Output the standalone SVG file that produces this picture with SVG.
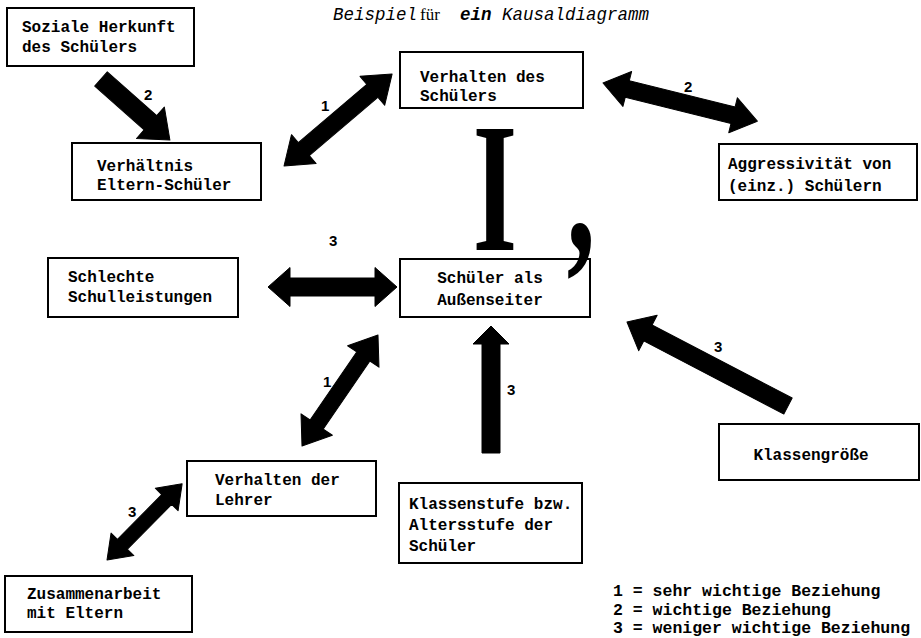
<svg xmlns="http://www.w3.org/2000/svg" width="921" height="638" viewBox="0 0 921 638">
<style>
.box{fill:#fff;stroke:#000;stroke-width:2}
.t{font-family:"Liberation Mono","DejaVu Sans Mono",monospace;font-size:16px;font-weight:bold;fill:#000}
.lg{font-family:"Liberation Mono","DejaVu Sans Mono",monospace;font-size:16.5px;font-weight:bold;fill:#000}
.lbl{font-family:"Liberation Sans",Arial,sans-serif;font-size:15px;font-weight:bold;fill:#000}
.arr{fill:#000;stroke:#000;stroke-width:1;stroke-linejoin:round}
.ttl{font-family:"Liberation Mono",monospace;font-size:17.5px;font-style:italic;fill:#000}
</style>
<rect width="921" height="638" fill="#fff"/>
<text y="20" class="ttl"><tspan x="333">Beispiel</tspan><tspan x="420" font-family="Liberation Serif,serif" font-style="normal" font-size="17">für</tspan><tspan x="460" font-weight="bold">ein</tspan><tspan x="502">Kausaldiagramm</tspan></text>
<g id="connectors">
<polygon class="arr" transform="translate(101,79) rotate(41.5)" points="0,-9.5 66,-9.5 66,-21 92,0 66,21 66,9.5 0,9.5"/>
<polygon class="arr" transform="translate(284,166) rotate(-40.4)" points="0,0 26,-19 26,-8.5 116,-8.5 116,-19 142,0 116,19 116,8.5 26,8.5 26,19"/>
<polygon class="arr" transform="translate(603,83) rotate(13.9)" points="0,0 25,-18 25,-8.5 134,-8.5 134,-18 159,0 134,18 134,8.5 25,8.5 25,18"/>
<polygon class="arr" transform="translate(268,287)" points="0,0 22,-19.5 22,-9 107,-9 107,-19.5 129,0 107,19.5 107,9 22,9 22,19.5"/>
<polygon class="arr" transform="translate(302,446) rotate(-55.6)" points="0,0 26,-19 26,-8 108.5,-8 108.5,-19 134.5,0 108.5,19 108.5,8 26,8 26,19"/>
<polygon class="arr" transform="translate(107,560) rotate(-45.4)" points="0,0 22,-16 22,-7 85,-7 85,-16 107,0 85,16 85,7 22,7 22,16"/>
<polygon class="arr" transform="translate(491,453) rotate(-90)" points="0,-9 109,-9 109,-18 127,0 109,18 109,9 0,9"/>
<polygon class="arr" transform="translate(788,406) rotate(-152.45)" points="0,-9 158,-9 158,-20 181.6,0 158,20 158,9 0,9"/>
<text class="lbl" x="144" y="100">2</text>
<text class="lbl" x="321" y="111">1</text>
<text class="lbl" x="684" y="92">2</text>
<text class="lbl" x="329" y="246">3</text>
<text class="lbl" x="323" y="387">1</text>
<text class="lbl" x="128" y="517">3</text>
<text class="lbl" x="507" y="395">3</text>
<text class="lbl" x="714" y="352">3</text>
</g>
<g id="n-soziale">
<rect class="box" x="7" y="8" width="187" height="58"/>
<text class="t" x="22" y="32">Soziale Herkunft</text>
<text class="t" x="22" y="52">des Schülers</text>
</g>
<g id="n-verhaeltnis">
<rect class="box" x="72" y="143" width="189" height="57"/>
<text class="t" x="97" y="171">Verhältnis</text>
<text class="t" x="97" y="190">Eltern-Schüler</text>
</g>
<g id="n-verhalten-schueler">
<rect class="box" x="400" y="52" width="183" height="56"/>
<text class="t" x="420" y="82">Verhalten des</text>
<text class="t" x="420" y="101">Schülers</text>
</g>
<g id="n-aggressivitaet">
<rect class="box" x="719" y="144" width="198" height="56"/>
<text class="t" x="728" y="169">Aggressivität von</text>
<text class="t" x="728" y="191">(einz.) Schülern</text>
</g>
<g id="n-schulleistungen">
<rect class="box" x="48" y="258" width="190" height="59"/>
<text class="t" x="68" y="282">Schlechte</text>
<text class="t" x="68" y="302">Schulleistungen</text>
</g>
<g id="n-aussenseiter">
<rect class="box" x="400" y="259" width="190" height="58"/>
<text class="t" x="490" y="283" text-anchor="middle">Schüler als</text>
<text class="t" x="490" y="305" text-anchor="middle">Außenseiter</text>
</g>
<g id="n-lehrer">
<rect class="box" x="187" y="461" width="189" height="55"/>
<text class="t" x="215" y="485">Verhalten der</text>
<text class="t" x="215" y="505">Lehrer</text>
</g>
<g id="n-klassenstufe">
<rect class="box" x="399" y="483" width="183" height="80"/>
<text class="t" x="409" y="509">Klassenstufe bzw.</text>
<text class="t" x="409" y="530">Altersstufe der</text>
<text class="t" x="409" y="551">Schüler</text>
</g>
<g id="n-klassengroesse">
<rect class="box" x="719" y="424" width="200" height="56"/>
<text class="t" x="811" y="460" text-anchor="middle">Klassengröße</text>
</g>
<g id="n-zusammenarbeit">
<rect class="box" x="5" y="576" width="187" height="56"/>
<text class="t" x="27" y="599">Zusammenarbeit</text>
<text class="t" x="27" y="618">mit Eltern</text>
</g>
<g id="mark">
<text transform="translate(495,250) scale(0.62,1)" x="0" y="0" text-anchor="middle" font-family="Liberation Serif,serif" font-weight="bold" font-size="184">I</text>
<text transform="translate(581,250) scale(0.62,1)" x="0" y="0" text-anchor="middle" font-family="Liberation Serif,serif" font-weight="bold" font-size="184">,</text>
</g>
<g id="legend">
<text class="lg" x="613" y="596">1 = sehr wichtige Beziehung</text>
<text class="lg" x="613" y="615">2 = wichtige Beziehung</text>
<text class="lg" x="613" y="633">3 = weniger wichtige Beziehung</text>
</g>
</svg>
